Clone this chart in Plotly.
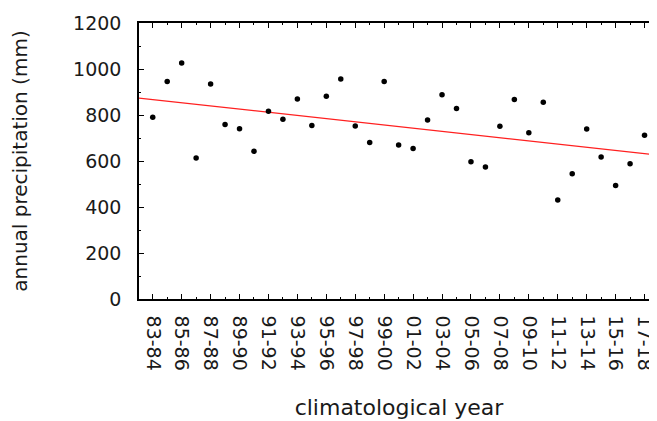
import plotly.graph_objects as go

years = ["83-84", "84-85", "85-86", "86-87", "87-88", "88-89", "89-90", "90-91",
         "91-92", "92-93", "93-94", "94-95", "95-96", "96-97", "97-98", "98-99",
         "99-00", "00-01", "01-02", "02-03", "03-04", "04-05", "05-06", "06-07",
         "07-08", "08-09", "09-10", "10-11", "11-12", "12-13", "13-14", "14-15",
         "15-16", "16-17", "17-18"]
precip = [790, 946, 1026, 613, 935, 759, 740, 642,
          816, 781, 870, 754, 881, 957, 752, 680,
          946, 670, 654, 778, 888, 828, 597, 574,
          751, 867, 723, 855, 430, 545, 739, 617,
          494, 588, 712]
# trend line values read at first and last climatological year
trend_first = 867
trend_last = 632

y_ticks = [0, 200, 400, 600, 800, 1000, 1200]

idx = list(range(len(years)))
x_range = [-0.95, 35.0]
slope = (trend_last - trend_first) / (len(years) - 1)
trend_x = x_range
trend_y = [trend_first + slope * x for x in trend_x]

FONT = "DejaVu Sans"
TXT = "#1a1a1a"

fig = go.Figure()
fig.add_trace(go.Scatter(x=trend_x, y=trend_y, mode="lines",
                         line=dict(color="#ff2020", width=1.3),
                         hoverinfo="skip", showlegend=False))
fig.add_trace(go.Scatter(x=idx, y=precip, mode="markers",
                         marker=dict(color="black", size=5.5, symbol="circle"),
                         text=years, showlegend=False))

# page body adds an 8px offset; the frame's right edge falls just outside the window
fig.update_layout(
    width=657, height=421,
    margin=dict(l=131, r=6, t=15, b=130),
    paper_bgcolor="white", plot_bgcolor="white",
    font=dict(family=FONT, color=TXT, size=19),
)
fig.update_xaxes(
    automargin=False,
    range=x_range,
    tickmode="array",
    tickvals=idx[::2], ticktext=years[::2],
    tickangle=90,
    ticks="inside", ticklen=5, tickwidth=1.2, tickcolor="black",
    minor=dict(tickmode="linear", tick0=0, dtick=1, ticks="inside",
               ticklen=2.5, tickwidth=1.2, tickcolor="black"),
    showline=True, linecolor="black", linewidth=1.5, mirror="ticks",
    showgrid=False, zeroline=False,
    ticklabelstandoff=11,
    tickfont=dict(family=FONT, size=19, color=TXT),
    title=dict(text="climatological year", standoff=30,
               font=dict(family=FONT, size=22, color=TXT)),
)
fig.update_yaxes(
    automargin=False,
    range=[0, 1200],
    tickmode="array", tickvals=y_ticks,
    ticks="inside", ticklen=5, tickwidth=1.2, tickcolor="black",
    minor=dict(tickmode="linear", tick0=0, dtick=100, ticks="inside",
               ticklen=2.5, tickwidth=1.2, tickcolor="black"),
    showline=True, linecolor="black", linewidth=1.5, mirror="ticks",
    showgrid=False, zeroline=False,
    ticklabelstandoff=12,
    tickfont=dict(family=FONT, size=19, color=TXT),
    title=dict(text="annual precipitation (mm)", standoff=40,
               font=dict(family=FONT, size=20, color=TXT)),
)

fig.write_html("out.html")
